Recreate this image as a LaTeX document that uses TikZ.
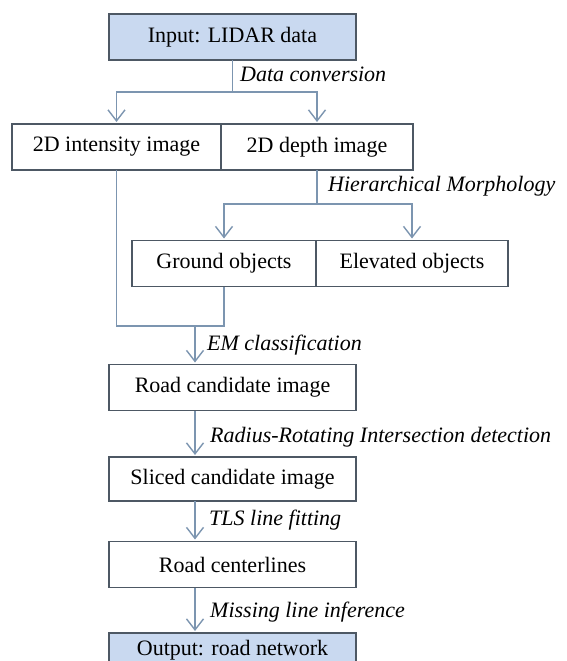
\documentclass[tikz,border=0pt]{standalone}
\usepackage{fontspec}
\setmainfont{Liberation Serif}
\usetikzlibrary{arrows.meta,calc}
\definecolor{boxfill}{HTML}{C9D9F0}
\definecolor{boxline}{HTML}{4D5864}
\definecolor{connline}{HTML}{7C95B0}
\tikzset{
  box/.style={draw=boxline, line width=1.2pt, inner sep=0pt, outer sep=0pt,
    minimum height=46pt, font=\fontsize{22}{26}\selectfont},
  startbox/.style={box, fill=boxfill},
  lab/.style={anchor=west, inner sep=0pt, font=\fontsize{22}{26}\selectfont\itshape},
  conn/.style={draw=connline, line width=1.4pt},
  arr/.style={conn, -{Straight Barb[length=11pt,width=17pt,line width=1.4pt]}, shorten >=2pt},
}
\begin{document}
\begin{tikzpicture}[x=1pt,y=-1pt]
\useasboundingbox (0,0) rectangle (566,661);
\clip (0,0) rectangle (566,661);
% boxes
\node[startbox, minimum width=247pt] (input) at (232.5,37) {Input: LIDAR data};
\node[box, minimum width=209pt] (inten) at (116.5,147) {2D intensity image};
\node[box, minimum width=192pt] (depth) at (317,147) {2D depth image};
\node[box, minimum width=184pt] (ground) at (224,263.5) {Ground objects};
\node[box, minimum width=192pt] (elev) at (412,263.5) {Elevated objects};
\node[box, minimum width=247pt] (road) at (232.5,387.5) {Road candidate image};
\node[box, minimum width=247pt, minimum height=44pt] (sliced) at (232.5,479) {Sliced candidate image};
\node[box, minimum width=247pt] (center) at (232.5,564.5) {Road centerlines};
\node[startbox, minimum width=247pt, minimum height=34pt] (output) at (232.5,650) {Output: road network};
% labels
\node[lab] (l1) at (240,74) {Data conversion};
\node[lab] (l2) at (328,186) {Hierarchical Morphology};
\node[lab] (l3) at (207,345) {EM classification};
\node[lab] (l4) at (210,437) {Radius-Rotating Intersection detection};
\node[lab] (l5) at (209,520) {TLS line fitting};
\node[lab] (l6) at (210,612) {Missing line inference};
% connectors
\coordinate (j1) at (232.5,92);
\draw[conn] (input.south) -- (j1);
\draw[arr] (j1) -| (inten.north);
\draw[arr] (j1) -| (depth.north);
\coordinate (j2) at (317,204);
\draw[conn] (depth.south) -- (j2);
\draw[arr] (j2) -| (ground.north);
\draw[arr] (j2) -| (elev.north);
\coordinate (c1) at (116.5,326);
\coordinate (c2) at (224,326);
\coordinate (c3) at (195,326);
\draw[conn] (inten.south) -- (c1) -- (c2) -- (ground.south);
\draw[arr] (c3) -- (road.north -| c3);
\coordinate (c4) at (195,411);
\draw[arr] (c4) -- (sliced.north -| c4);
\coordinate (c5) at (195,501);
\draw[arr] (c5) -- (center.north -| c5);
\coordinate (c6) at (195,587.5);
\draw[arr] (c6) -- (output.north -| c6);
\end{tikzpicture}
\end{document}
